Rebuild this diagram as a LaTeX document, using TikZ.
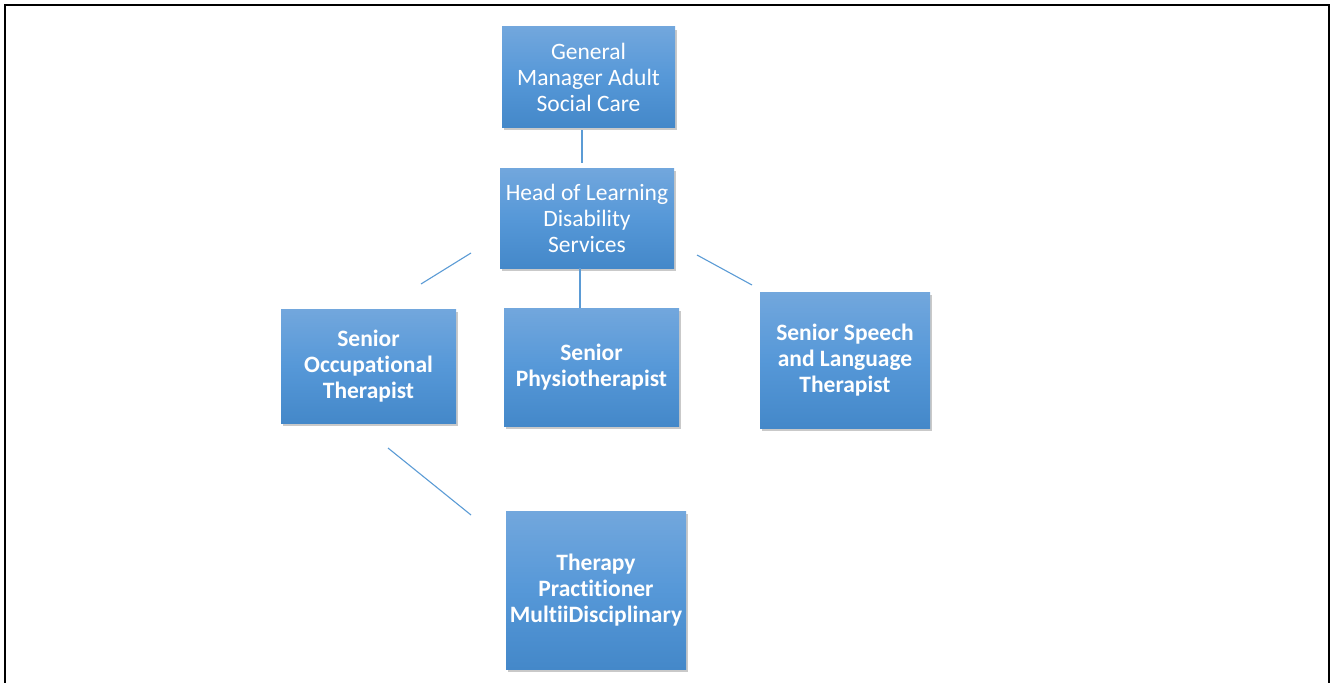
\documentclass[tikz,border=0pt]{standalone}
\usepackage{fontspec}
\setmainfont{Carlito}[Ligatures=CommonOff]
\usetikzlibrary{shadows,calc}
\definecolor{boxtop}{RGB}{114,167,221}
\definecolor{boxmid}{RGB}{86,152,216}
\definecolor{boxbot}{RGB}{68,136,201}
\definecolor{connc}{RGB}{91,155,213}
\tikzset{
  orgbox/.style={rectangle, inner sep=0pt, align=center, text=white,
    top color=boxtop, bottom color=boxbot, middle color=boxmid,
    font=\fontsize{23.5bp}{26bp}\selectfont,
    drop shadow={shadow xshift=2bp, shadow yshift=-3bp, opacity=0.3, fill=black!70}},
  boldbox/.style={orgbox, font=\fontsize{23.5bp}{26bp}\selectfont\bfseries},
  conn/.style={draw=connc, line width=1.1bp},
  frameline/.style={draw=black, line width=2bp}
}
\begin{document}
\begin{tikzpicture}[x=1bp,y=-1bp]
\useasboundingbox (0,0) rectangle (1336,682);
\draw[frameline] (5,690) -- (5,5) -- (1329,5) -- (1329,690);

\node[orgbox, minimum width=173bp, minimum height=100bp] (gm) at (588.5,77) {General\\Manager Adult\\Social Care};
\node[orgbox, minimum width=174bp, minimum height=100bp] (head) at (587,218) {Head of Learning\\Disability\\Services};
\node[boldbox, minimum width=175bp, minimum height=114bp] (ot) at (368.5,366) {Senior\\Occupational\\Therapist};
\node[boldbox, minimum width=175bp, minimum height=118bp] (physio) at (591.5,367) {Senior\\Physiotherapist};
\node[boldbox, minimum width=170bp, minimum height=136bp] (speech) at (845,360) {Senior Speech\\and Language\\Therapist};
\node[boldbox, minimum width=180bp, minimum height=158bp] (tp) at (596,590) {Therapy\\Practitioner\\MultiiDisciplinary};

\coordinate (gmA) at (582,130);
\coordinate (gmB) at (582,163);
\coordinate (phA) at (580,268);
\coordinate (phB) at (580,308);
\coordinate (otA) at (471,253);
\coordinate (otB) at (421,284);
\coordinate (spA) at (697,255);
\coordinate (spB) at (752,285);
\coordinate (tpA) at (388,448);
\coordinate (tpB) at (471,515);

\draw[conn] (gmA) -- (gmB);
\draw[conn] (phA) -- (phB);
\draw[conn] (otA) -- (otB);
\draw[conn] (spA) -- (spB);
\draw[conn] (tpA) -- (tpB);
\end{tikzpicture}
\end{document}
